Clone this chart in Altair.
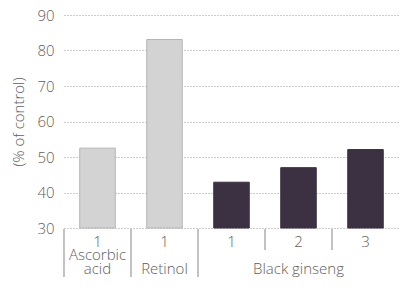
import altair as alt
import pandas as pd

categories = ["Ascorbic acid", "Retinol", "BG 1", "BG 2", "BG 3"]
doses = ["1", "1", "1", "2", "3"]
values = [52.5, 83.1, 42.9, 47.0, 52.1]
kinds = ["reference", "reference", "ginseng", "ginseng", "ginseng"]
name_line1 = ["Ascorbic", "", "", "", ""]
name_line2 = ["acid", "Retinol", "", "Black ginseng", ""]
separator = ["long", "long", "long", "short", "short"]

W, H = 335, 213
FONT = "Open Sans"
FS = 15
TXT = "#5e5e5e"

df = pd.DataFrame({
    "cat": categories, "dose": doses, "value": values, "kind": kinds,
    "l1": name_line1, "l2": name_line2, "sep": separator,
})

base = alt.Chart(df)

x_main = alt.X(
    "cat:N", sort=categories,
    scale=alt.Scale(paddingInner=0, paddingOuter=0),
    axis=alt.Axis(labels=False, ticks=False, domain=False, grid=False,
                  title="Concentration (μg/ml)", titleY=281,
                  titleBaseline="alphabetic", titleFont=FONT,
                  titleFontSize=FS, titleFontWeight=300, titleColor=TXT),
)
x_plain = alt.X("cat:N", sort=categories)

bars = base.mark_bar(width={"band": 0.53}, strokeWidth=1).encode(
    x=x_main,
    y=alt.Y("value:Q",
            scale=alt.Scale(domain=[30, 90], zero=False, nice=False),
            axis=alt.Axis(values=[30, 40, 50, 60, 70, 80, 90], ticks=False,
                          domain=False, gridDash=[1, 2], gridColor="#9a9a9a",
                          gridWidth=1, labelPadding=10, labelFont=FONT,
                          labelFontSize=FS, labelFontWeight=300,
                          labelColor=TXT, title="(% of control)",
                          titleFont=FONT, titleFontSize=FS,
                          titleFontWeight=300, titleColor=TXT,
                          titlePadding=10)),
    y2=alt.datum(30),
    color=alt.Color("kind:N",
                    scale=alt.Scale(domain=["reference", "ginseng"],
                                    range=["#d3d3d3", "#3b3142"]),
                    legend=None),
    stroke=alt.Stroke("kind:N",
                      scale=alt.Scale(domain=["reference", "ginseng"],
                                      range=["#b4b4b4", "#3b3142"]),
                      legend=None),
)

long_sep = base.transform_filter(alt.datum.sep == "long").mark_rule(
    color="#9a9a9a", strokeWidth=1.2).encode(
    x=alt.X("cat:N", sort=categories, bandPosition=0),
    y=alt.value(H + 1), y2=alt.value(H + 49))

short_sep = base.transform_filter(alt.datum.sep == "short").mark_rule(
    color="#9a9a9a", strokeWidth=1.2).encode(
    x=alt.X("cat:N", sort=categories, bandPosition=0),
    y=alt.value(H + 1), y2=alt.value(H + 22))

text_kw = dict(font=FONT, fontSize=FS, fontWeight=300, color=TXT,
               baseline="alphabetic", align="center")

dose_text = base.mark_text(**text_kw).encode(
    x=x_plain, y=alt.value(H + 19), text="dose:N")

l1_text = base.transform_filter(alt.datum.l1 != "").mark_text(**text_kw).encode(
    x=x_plain, y=alt.value(H + 31.5), text="l1:N")

l2_text = base.transform_filter(alt.datum.l2 != "").mark_text(**text_kw).encode(
    x=x_plain, y=alt.value(H + 45.5), text="l2:N")

chart = alt.layer(bars, long_sep, short_sep, dose_text, l1_text, l2_text).properties(
    width=W, height=H,
    autosize=alt.AutoSizeParams(type="none"),
    padding={"left": 56, "top": 7, "right": 0, "bottom": 69},
).configure_view(stroke=None)

chart.save("out.html", embed_options={"renderer": "svg", "actions": False})
